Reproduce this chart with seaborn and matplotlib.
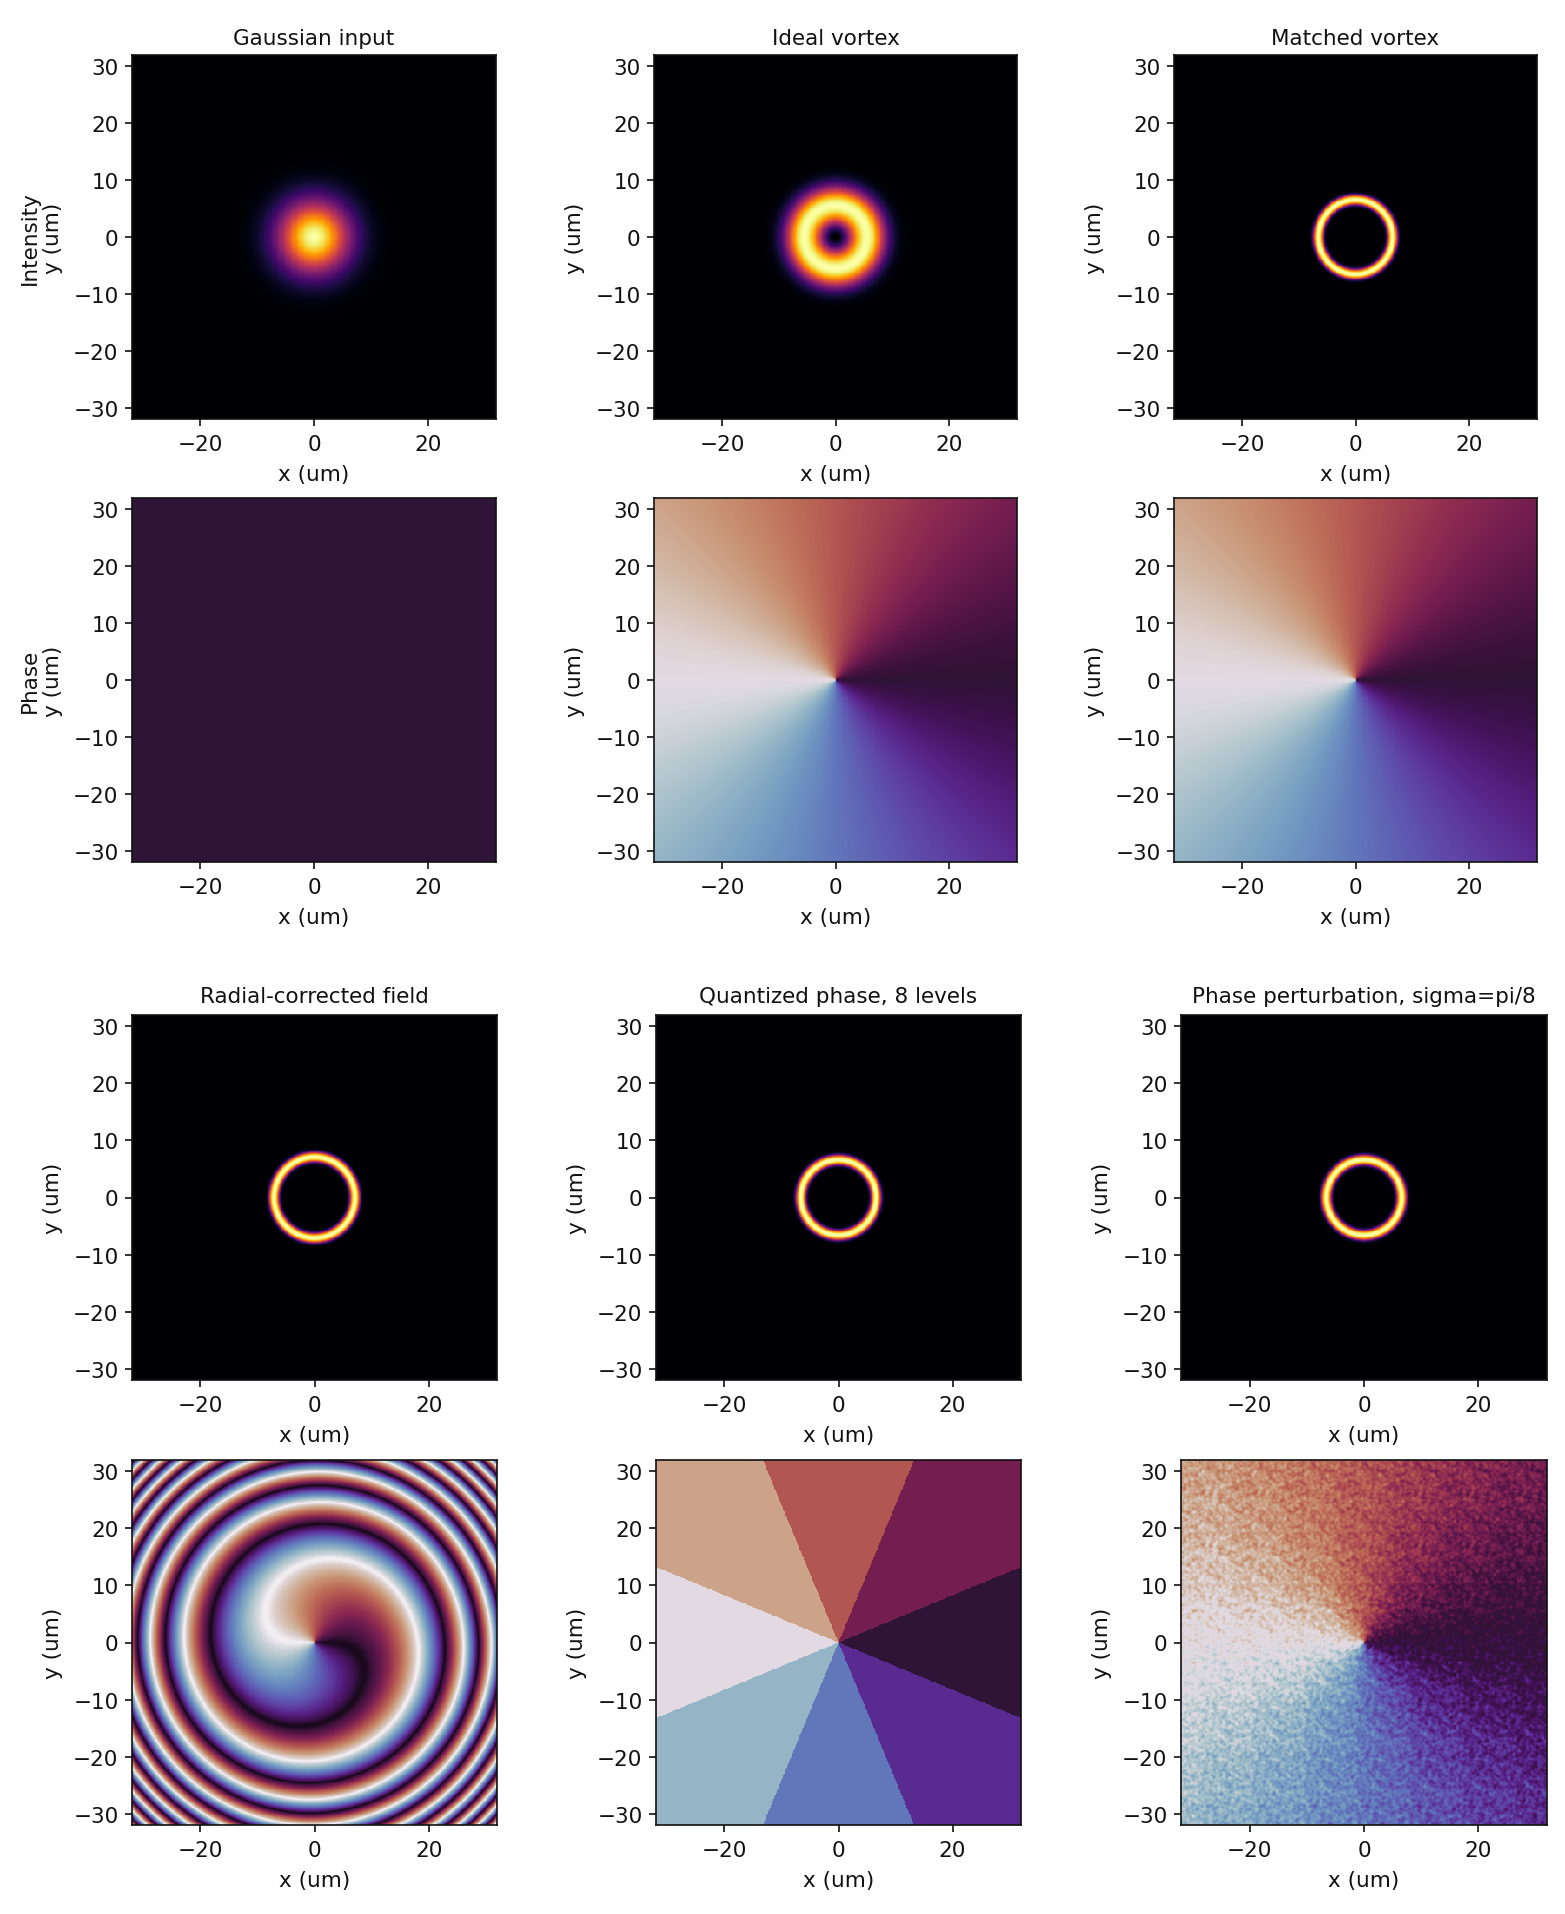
import numpy as np
import matplotlib
matplotlib.use("Agg")
import matplotlib.pyplot as plt
from matplotlib.colors import ListedColormap
import seaborn as sns

# Beam parameters and labels (lengths in um)
EXTENT = 32.0
GAUSS_WAIST = 8.8
IDEAL_PEAK_RADIUS = 5.6
IDEAL_OUTER_SCALE = 3.2
RING_RADII = [6.55, 7.1, 6.6, 6.6]
RING_WIDTH = 0.88
SPIRAL_COEFF = 8.4e-5
PHASE_LEVELS = [0.0, 0.125, 0.25, 0.375, 0.5, 0.625, 0.75, 0.875]
SIGMA_CYCLES = 1.0 / 16.0
GRAIN_GAIN = 1.7
# Fixed perturbation samples, in units of sigma
GRAIN_TABLE = [0.42, -1.13, 0.87, -0.31, 1.62, -0.74, 0.12, -1.88, 0.55, 1.04,
               -0.47, 0.23, -1.36, 1.97, -0.09, 0.71, -0.92, 0.36, 1.28, -1.57,
               0.04, -0.63, 1.45, -0.18, 0.94, -2.11, 0.29, 0.66, -1.02, 1.73,
               -0.38, 0.15, -0.81, 2.06, -1.24, 0.51, -0.02, 1.17, -1.69, 0.78,
               -0.55, 0.33, 1.39, -0.97, 0.08, -1.41, 0.61, 1.84, -0.26, -0.69,
               1.09, -1.78, 0.47, 0.19, -1.19, 1.53, -0.43, 0.83, -0.12, -1.51, 0.98]

INTENSITY_TITLES = ["Gaussian input", "Ideal vortex", "Matched vortex",
                    "Radial-corrected field", "Quantized phase, 8 levels",
                    "Phase perturbation, sigma=pi/8"]
TICK_X = [-20, 0, 20]
TICK_Y = [30, 20, 10, 0, -10, -20, -30]
ROW_NAMES = ["Intensity", "Phase"]

# Axes boxes in pixels: left, right for each column; top, bottom for each row
COLS_TOP = [(132, 496), (654, 1017), (1174, 1537)]
COLS_BOT = [(132, 497), (656, 1021), (1181, 1547)]
ROWS = [(56, 420), (499, 863), (1016, 1381), (1461, 1826)]
W, H = 1565, 1915

sns.set_style("ticks")
plt.rcParams["font.family"] = ["DejaVu Sans"]
plt.rcParams["text.color"] = "#111111"
plt.rcParams["axes.labelcolor"] = "#111111"
plt.rcParams["xtick.color"] = "#111111"
plt.rcParams["ytick.color"] = "#111111"

N = 420
coords = (np.arange(N) + 0.5) / N * 2 * EXTENT - EXTENT
xx, yy = np.meshgrid(coords, -coords)
rr = np.hypot(xx, yy)
theta = np.arctan2(yy, xx)
helical = np.mod(-theta / (2 * np.pi), 1.0)


def ring(radius):
    return np.exp(-(np.abs(rr - radius) / RING_WIDTH) ** 2.6)


def ideal_vortex():
    x = (rr / IDEAL_PEAK_RADIUS) ** 2
    inner = x * np.exp(1 - x)
    outer = np.exp(-((rr - IDEAL_PEAK_RADIUS) / IDEAL_OUTER_SCALE) ** 2)
    return np.where(rr < IDEAL_PEAK_RADIUS, inner, outer)


def quantized_phase():
    levels = np.asarray(PHASE_LEVELS)
    idx = np.round(helical * len(levels)).astype(int) % len(levels)
    return levels[idx]


def soften(field):
    return sum(np.roll(np.roll(field, dx, 0), dy, 1)
               for dx in (-1, 0, 1) for dy in (-1, 0, 1)) / 9.0


def grain_field():
    # Per-cell values drawn from the fixed table, softened to a few display pixels
    table = np.asarray(GRAIN_TABLE)
    i, j = np.indices((N, N))
    a = (3 * i * i + 7 * j * j + 5 * i * j + 11 * i + 2 * j) % 61
    b = (i * i * i + 4 * j * j * j + 9 * i * j + 13 * j) % 59
    cells = (table[a] + table[b]) / np.sqrt(2)
    return GRAIN_GAIN * soften(soften(cells))


def crest_colormap():
    # Twilight with crisper crests, for the closely spaced fringes
    v = np.linspace(0, 1, 1024)
    rgb = plt.get_cmap("twilight_shifted")(v)[:, :3]
    light = 0.55 * np.exp(-((v - 0.5) / 0.03) ** 2)[:, None]
    dark = 0.5 * np.exp(-(np.minimum(v, 1 - v) / 0.03) ** 2)[:, None]
    rgb = rgb * (1 - light) + light
    rgb = rgb * (1 - dark)
    return ListedColormap(rgb)


def draw(field, left_right, top_bottom, cmap, title=None, ylabel="y (um)", title_pad=8):
    left, right = left_right
    top, bottom = top_bottom
    ax = fig.add_axes([left / W, 1 - bottom / H, (right - left) / W, (bottom - top) / H])
    sns.heatmap(field, ax=ax, cmap=cmap, vmin=0, vmax=1, cbar=False,
                xticklabels=False, yticklabels=False, square=False, rasterized=True)
    for spine in ax.spines.values():
        spine.set_visible(True)
        spine.set_linewidth(1.2)
        spine.set_color("#111111")
    to_cell = lambda v: (v + EXTENT) / (2 * EXTENT) * N
    ax.set_xticks([to_cell(v) for v in TICK_X])
    ax.set_xticklabels([str(v).replace("-", "\u2212") for v in TICK_X], rotation=0)
    ax.set_yticks([to_cell(-v) for v in TICK_Y])
    ax.set_yticklabels([str(v).replace("-", "\u2212") for v in TICK_Y], rotation=0)
    ax.tick_params(axis="both", labelsize=15.5, length=5.2, width=1.2,
                   bottom=True, left=True, top=False, right=False)
    ax.tick_params(axis="x", pad=5.5)
    ax.tick_params(axis="y", pad=4.5)
    ax.set_xlabel("x (um)", fontsize=15.5, labelpad=7.5)
    ax.set_ylabel(ylabel, fontsize=15.5, labelpad=7)
    if title:
        ax.set_title(title, fontsize=15.5, pad=title_pad)
    return ax


fig = plt.figure(figsize=(W / 100, H / 100), dpi=100, facecolor="white")

gaussian = np.exp(-2 * rr ** 2 / GAUSS_WAIST ** 2)
intensity_fields = [gaussian, ideal_vortex(), ring(RING_RADII[0]),
                    ring(RING_RADII[1]), ring(RING_RADII[2]), ring(RING_RADII[3])]
spiral = np.mod(helical - SPIRAL_COEFF * rr ** 3, 1.0)
noisy = np.mod(helical + SIGMA_CYCLES * grain_field(), 1.0)
phase_fields = [np.zeros_like(rr), helical, helical, spiral, quantized_phase(), noisy]
phase_cmaps = ["twilight_shifted", "twilight_shifted", "twilight_shifted",
               crest_colormap(), "twilight_shifted", "twilight_shifted"]

for c in range(3):
    draw(intensity_fields[c], COLS_TOP[c], ROWS[0], "inferno", title=INTENSITY_TITLES[c],
         ylabel=f"{ROW_NAMES[0]}\ny (um)" if c == 0 else "y (um)")
    draw(phase_fields[c], COLS_TOP[c], ROWS[1], phase_cmaps[c],
         ylabel=f"{ROW_NAMES[1]}\ny (um)" if c == 0 else "y (um)")
    draw(intensity_fields[c + 3], COLS_BOT[c], ROWS[2], "inferno",
         title=INTENSITY_TITLES[c + 3], title_pad=9.5)
    draw(phase_fields[c + 3], COLS_BOT[c], ROWS[3], phase_cmaps[c + 3])

fig.savefig("out.png", dpi=100, facecolor="white")
